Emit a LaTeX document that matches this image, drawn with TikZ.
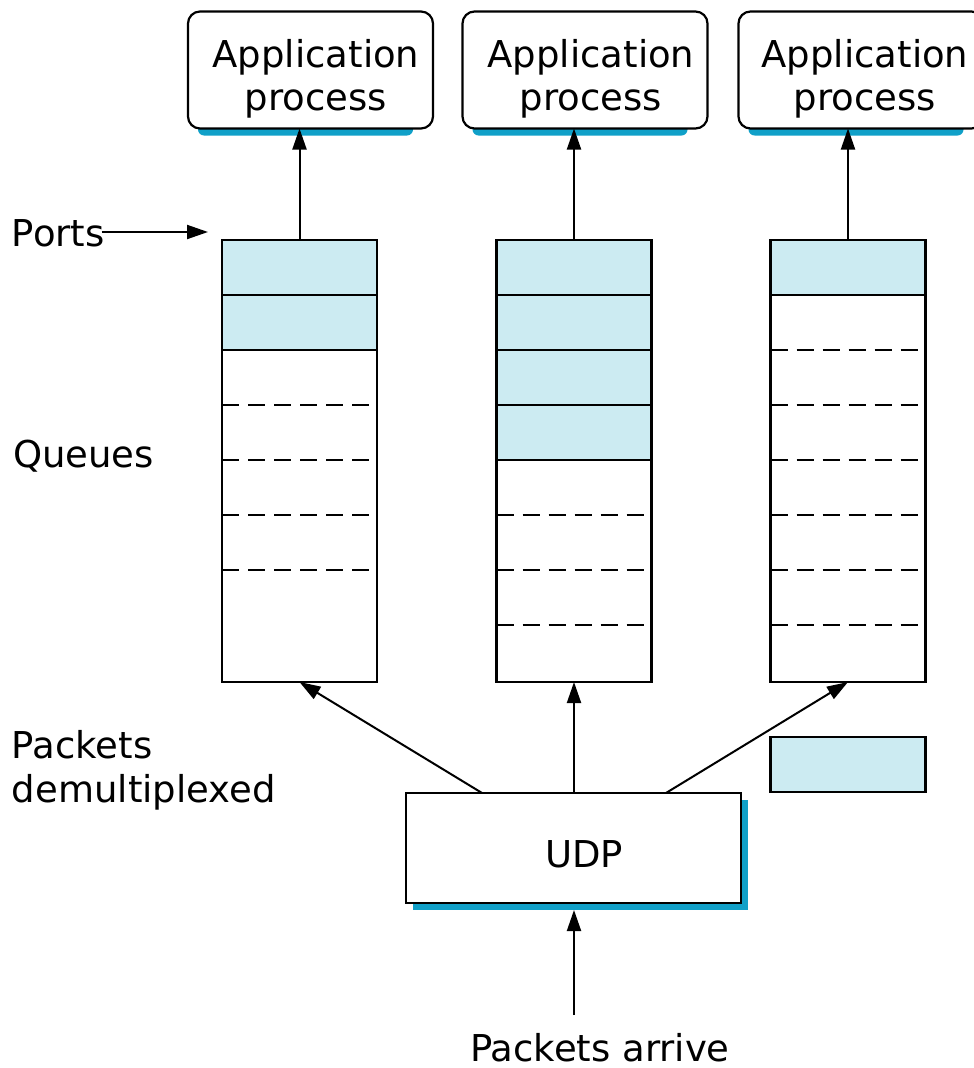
\documentclass[tikz,border=0pt]{standalone}
\usepackage{fontspec}
\setmainfont{DejaVu Sans}
\usetikzlibrary{arrows.meta,calc,shadows,backgrounds}
\definecolor{cellblue}{RGB}{204,235,242}
\definecolor{shadowblue}{RGB}{16,160,200}
\tikzset{
  every node/.style={inner sep=0pt, outer sep=0pt},
  txt/.style={font=\fontsize{37}{43}\selectfont},
  lbl/.style={txt, anchor=base west},
  ctr/.style={txt, anchor=base},
  appbox/.style={draw, line width=2.2pt, rounded corners=12pt, fill=white,
    minimum width=245pt, minimum height=117pt},
  appshadow/.style={fill=shadowblue, rounded corners=6pt},
  udpbox/.style={draw, line width=2.2pt, fill=white,
    minimum width=335pt, minimum height=110pt,
    general shadow={shadow xshift=7pt, shadow yshift=-7pt, fill=shadowblue}},
  queue/.style={draw, line width=2.2pt, minimum width=155pt, minimum height=442pt},
  cell/.style={draw, line width=2.2pt, fill=cellblue},
  slot/.style={line width=2.2pt, dash pattern=on 17pt off 9pt},
  conn/.style={line width=2pt, -{Triangle[length=21pt,width=14pt]}},
}
\begin{document}
\begin{tikzpicture}[x=1pt,y=-1pt]
\useasboundingbox (0,0) rectangle (974,1068);

% application processes
\node[appbox] (app1) at (310.5,70) {};
\node[appbox] (app2) at (585,70) {};
\node[appbox] (app3) at (861,70) {};
\begin{scope}[on background layer]
  \foreach \a in {app1,app2,app3}
    \fill[appshadow] ($(\a.south west)+(10,-8)$) rectangle ($(\a.south east)+(-20,7)$);
\end{scope}
\foreach \a/\x in {app1/316, app2/591, app3/865} {
  \node[ctr] (\a-l1) at (\x,67) {Application};
  \node[ctr] (\a-l2) at (\x,110) {process};
}

% queues at the ports
\node[queue] (q1) at (299.5,461) {};
\node[queue] (q2) at (574,461) {};
\node[queue] (q3) at (848,461) {};

% queue 1: two packets waiting
\draw[cell] (q1.north west) rectangle ($(q1.north east)+(0,55)$);
\draw[cell] ($(q1.north west)+(0,55)$) rectangle ($(q1.north east)+(0,110)$);
\foreach \d in {165,220,275,330}
  \draw[slot] ($(q1.north west)+(0,\d)$) -- ++(147,0);

% queue 2: four packets waiting
\foreach \d in {0,55,110,165}
  \draw[cell] ($(q2.north west)+(0,\d)$) rectangle ($(q2.north east)+(0,\d+55)$);
\foreach \d in {275,330,385}
  \draw[slot] ($(q2.north west)+(0,\d)$) -- ++(147,0);

% queue 3: one packet waiting
\draw[cell] (q3.north west) rectangle ($(q3.north east)+(0,55)$);
\foreach \d in {110,165,220,275,330,385}
  \draw[slot] ($(q3.north west)+(0,\d)$) -- ++(147,0);

% packet on its way
\node[cell, minimum width=155pt, minimum height=55pt] (pkt) at (848,764.5) {};

% UDP
\node[udpbox] (udp) at (573.5,848) {};
\node[ctr] (udptxt) at (584,867) {UDP};

% deliveries to the processes
\draw[conn] (q1.north) -- (q1.north |- app1.south);
\draw[conn] (q2.north) -- (q2.north |- app2.south);
\draw[conn] (q3.north) -- (q3.north |- app3.south);

% demultiplexing
\draw[conn] ($(udp.north west)!0.227!(udp.north east)$) -- (q1.south);
\draw[conn] (q2.south |- udp.north) -- (q2.south);
\draw[conn] ($(udp.north west)!0.776!(udp.north east)$) -- (q3.south);

% arrivals
\node[ctr] (arrive) at (600,1061) {Packets arrive};
\coordinate (src) at (574,1015);
\draw[conn] (src) -- ($(src |- udp.south)+(0,7)$);

% side labels
\node[lbl] (ports) at (12,246) {Ports};
\coordinate (porttip) at (208,232);
\draw[conn] ($(ports.base east)+(-3,-14)$) -- (porttip);
\node[lbl] (queues) at (13,467) {Queues};
\node[lbl] (demux1) at (12,758) {Packets};
\node[lbl] (demux2) at (12,802) {demultiplexed};
\end{tikzpicture}
\end{document}
